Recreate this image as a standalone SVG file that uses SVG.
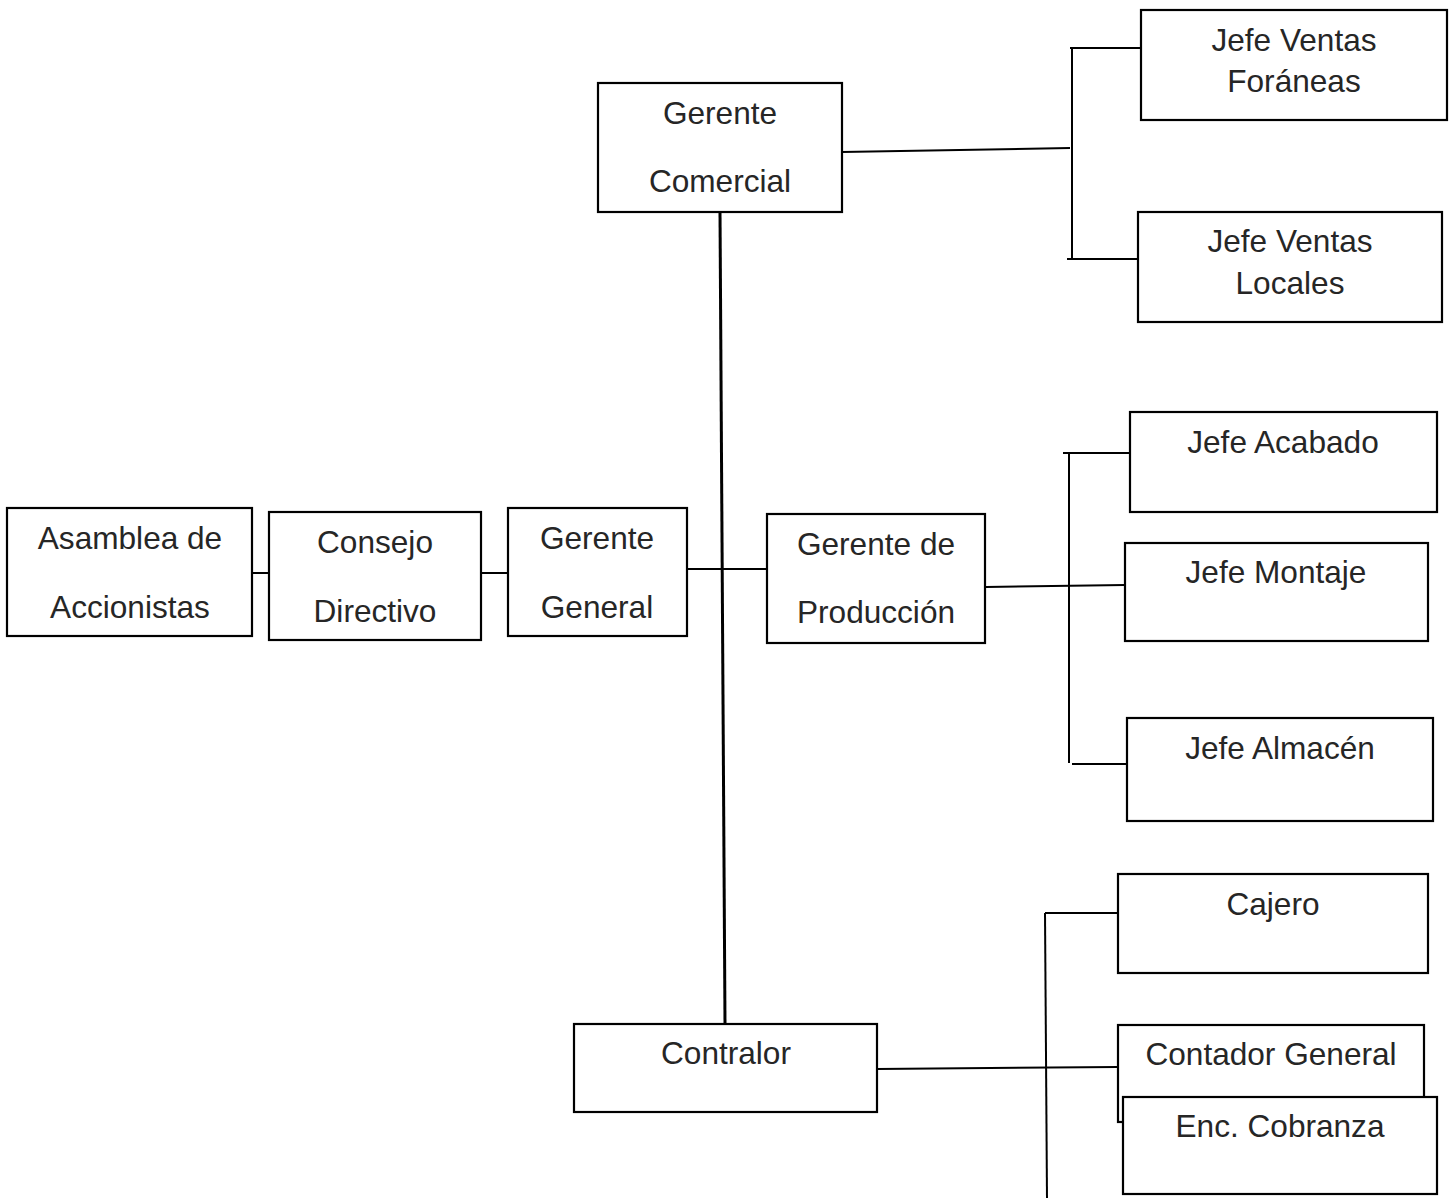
<svg xmlns="http://www.w3.org/2000/svg" width="1455" height="1199" viewBox="0 0 1455 1199">
  <style>
    .box { fill: #ffffff; stroke: #000000; stroke-width: 2.2; }
    .lbl { font-family: "Liberation Sans", Arial, sans-serif; font-size: 31.6px; fill: #262626; text-anchor: middle; }
    .ln { stroke: #000000; stroke-width: 2; fill: none; }
    .main { stroke: #000000; stroke-width: 3; fill: none; }
  </style>
  <rect width="1455" height="1199" fill="#ffffff"/>

  <!-- connectors -->
  <g id="connectors">
    <line class="ln" x1="252" y1="573" x2="269" y2="573"/>
    <line class="ln" x1="481" y1="573" x2="508" y2="573"/>
    <line class="ln" x1="684" y1="569" x2="767" y2="569"/>
    <line class="main" x1="720" y1="212" x2="725" y2="1024"/>

    <!-- comercial branch -->
    <line class="ln" x1="842" y1="152" x2="1070" y2="148"/>
    <line class="ln" x1="1072" y1="47" x2="1072" y2="259"/>
    <line class="ln" x1="1070" y1="48" x2="1142" y2="48"/>
    <line class="ln" x1="1067" y1="259" x2="1139" y2="259"/>

    <!-- produccion branch -->
    <line class="ln" x1="986" y1="587" x2="1125" y2="585"/>
    <line class="ln" x1="1069" y1="453" x2="1069" y2="763"/>
    <line class="ln" x1="1063" y1="453" x2="1131" y2="453"/>
    <line class="ln" x1="1072" y1="764" x2="1127" y2="764"/>

    <!-- contralor branch -->
    <line class="ln" x1="877" y1="1069" x2="1118" y2="1067"/>
    <line class="ln" x1="1045" y1="913" x2="1047" y2="1198"/>
    <line class="ln" x1="1045" y1="913" x2="1118" y2="913"/>
  </g>

  <g id="asamblea">
    <rect class="box" x="7" y="508" width="245" height="128"/>
    <text class="lbl" x="130" y="549">Asamblea de</text>
    <text class="lbl" x="130" y="618">Accionistas</text>
  </g>
  <g id="consejo">
    <rect class="box" x="269" y="512" width="212" height="128"/>
    <text class="lbl" x="375" y="553">Consejo</text>
    <text class="lbl" x="375" y="622">Directivo</text>
  </g>
  <g id="gerente-general">
    <rect class="box" x="508" y="508" width="179" height="128"/>
    <text class="lbl" x="597" y="549">Gerente</text>
    <text class="lbl" x="597" y="618">General</text>
  </g>
  <g id="gerente-produccion">
    <rect class="box" x="767" y="514" width="218" height="129"/>
    <text class="lbl" x="876" y="555">Gerente de</text>
    <text class="lbl" x="876" y="623">Producción</text>
  </g>
  <g id="gerente-comercial">
    <rect class="box" x="598" y="83" width="244" height="129"/>
    <text class="lbl" x="720" y="124">Gerente</text>
    <text class="lbl" x="720" y="192">Comercial</text>
  </g>
  <g id="contralor">
    <rect class="box" x="574" y="1024" width="303" height="88"/>
    <text class="lbl" x="726" y="1064">Contralor</text>
  </g>

  <g id="jefe-ventas-foraneas">
    <rect class="box" x="1141" y="10" width="306" height="110"/>
    <text class="lbl" x="1294" y="51">Jefe Ventas</text>
    <text class="lbl" x="1294" y="92">Foráneas</text>
  </g>
  <g id="jefe-ventas-locales">
    <rect class="box" x="1138" y="212" width="304" height="110"/>
    <text class="lbl" x="1290" y="252">Jefe Ventas</text>
    <text class="lbl" x="1290" y="294">Locales</text>
  </g>
  <g id="jefe-acabado">
    <rect class="box" x="1130" y="412" width="307" height="100"/>
    <text class="lbl" x="1283" y="453">Jefe Acabado</text>
  </g>
  <g id="jefe-montaje">
    <rect class="box" x="1125" y="543" width="303" height="98"/>
    <text class="lbl" x="1276" y="583">Jefe Montaje</text>
  </g>
  <g id="jefe-almacen">
    <rect class="box" x="1127" y="718" width="306" height="103"/>
    <text class="lbl" x="1280" y="759">Jefe Almacén</text>
  </g>
  <g id="cajero">
    <rect class="box" x="1118" y="874" width="310" height="99"/>
    <text class="lbl" x="1273" y="915">Cajero</text>
  </g>
  <g id="contador-general">
    <rect class="box" x="1118" y="1025" width="306" height="97"/>
    <text class="lbl" x="1271" y="1065">Contador General</text>
  </g>
  <g id="enc-cobranza">
    <rect class="box" x="1123" y="1097" width="314" height="97"/>
    <text class="lbl" x="1280" y="1137">Enc. Cobranza</text>
  </g>
</svg>
